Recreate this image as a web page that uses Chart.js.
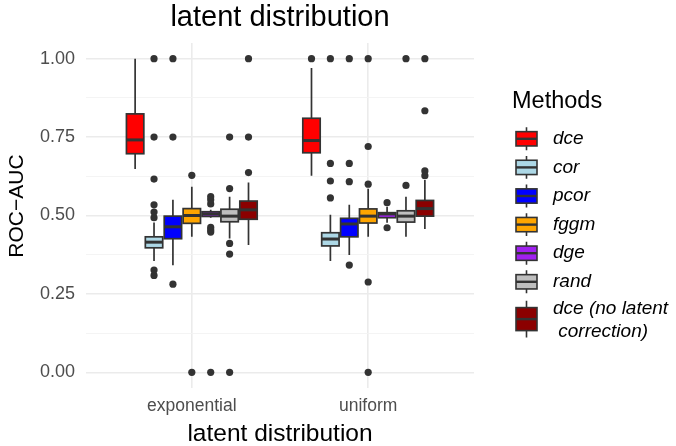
<!DOCTYPE html>
<html>
<head>
<meta charset="utf-8">
<script src="https://cdn.jsdelivr.net/npm/chart.js@4.4.1/dist/chart.umd.min.js"></script>
<style>
  html, body { margin: 0; padding: 0; background: #ffffff; }
  #wrap { width: 676px; height: 446px; }
</style>
</head>
<body>
<div id="wrap"><canvas id="box-chart" width="676" height="446"></canvas></div>
<script>
// Values: five-number boxes [lower whisker, q1, median, q3, upper whisker]
const categories = ["exponential", "uniform"];
const methods = ["dce", "cor", "pcor", "fggm", "dge", "rand", "dce (no latent correction)"];
const methodColors = ["#FF0000", "#ADD8E6", "#0000FF", "#FFA500", "#A020F0", "#BEBEBE", "#8B0000"];
const yTicks = [0, 0.125, 0.25, 0.375, 0.5, 0.625, 0.75, 0.875, 1];

const dceBox = [[0.648, 0.697, 0.741, 0.824, 1.0], [0.627, 0.700, 0.739, 0.810, 0.970]];
const corBox = [[0.355, 0.397, 0.415, 0.432, 0.478], [0.355, 0.403, 0.425, 0.445, 0.502]];
const pcorBox = [[0.341, 0.426, 0.464, 0.498, 0.550], [0.374, 0.432, 0.473, 0.491, 0.534]];
const fggmBox = [[0.432, 0.475, 0.500, 0.522, 0.592], [0.432, 0.476, 0.498, 0.521, 0.585]];
const dgeBox = [[0.493, 0.497, 0.505, 0.512, 0.518], [0.477, 0.493, 0.505, 0.509, 0.528]];
const randBox = [[0.427, 0.480, 0.498, 0.520, 0.560], [0.432, 0.479, 0.498, 0.515, 0.560]];
const dceNlBox = [[0.406, 0.488, 0.518, 0.546, 0.605], [0.457, 0.498, 0.522, 0.548, 0.613]];

const dceOut = [[], [1.0]];
const corOut = [[0.309, 0.326, 0.493, 0.511, 0.534, 0.616, 0.75, 1.0], [0.556, 0.610, 0.666, 1.0]];
const pcorOut = [[0.281, 0.75, 1.0], [0.342, 0.608, 0.666, 1.0]];
const fggmOut = [[0.628, 0], [0.288, 0.600, 0.720, 0, 1.0]];
const dgeOut = [[0.447, 0.454, 0.462, 0.537, 0.550, 0.560, 0], [0.461, 0.541]];
const randOut = [[0.377, 0.411, 0.586, 0.75, 0], [0.596, 1.0]];
const dceNlOut = [[0.637, 0.75, 1.0], [0.627, 0.642, 0.834, 1.0]];

const boxes = [dceBox, corBox, pcorBox, fggmBox, dgeBox, randBox, dceNlBox];
const outliers = [dceOut, corOut, pcorOut, fggmOut, dgeOut, randOut, dceNlOut];

const FONT = "'Liberation Sans', Arial, Helvetica, sans-serif";
const LINE = "#333333";
const DODGE = 0.75;                       // total dodge width per category
const SLOT = DODGE / methods.length;

// x position (in axis units) of a method inside a category
function xPos(catIdx, m) {
    return (catIdx + 1) - DODGE / 2 + (m + 0.5) * SLOT;
}

// outlier points for the scatter dataset
const outlierPoints = [];
outliers.forEach((perCat, m) => {
    perCat.forEach((vals, c) => {
        vals.forEach((v) => outlierPoints.push({ x: xPos(c, m), y: v }));
    });
});

// Draws box + whiskers + median through the chart scales
const boxPlugin = {
    id: "boxes",
    beforeDatasetsDraw(chart) {
        const { ctx, scales } = chart;
        const xs = scales.x, ys = scales.y;
        const half = (xs.getPixelForValue(SLOT) - xs.getPixelForValue(0)) * 0.92 / 2;
        ctx.save();
        ctx.strokeStyle = LINE;
        boxes.forEach((perCat, m) => {
            perCat.forEach((b, c) => {
                const cx = xs.getPixelForValue(xPos(c, m));
                const [lo, q1, med, q3, hi] = b.map((v) => ys.getPixelForValue(v));
                ctx.lineWidth = 1.7;
                ctx.beginPath();
                ctx.moveTo(cx, lo); ctx.lineTo(cx, q1);
                ctx.moveTo(cx, q3); ctx.lineTo(cx, hi);
                ctx.stroke();
                ctx.fillStyle = methodColors[m];
                ctx.fillRect(cx - half, q3, half * 2, q1 - q3);
                ctx.strokeRect(cx - half, q3, half * 2, q1 - q3);
                ctx.lineWidth = 3;
                ctx.beginPath();
                ctx.moveTo(cx - half, med); ctx.lineTo(cx + half, med);
                ctx.stroke();
            });
        });
        ctx.restore();
    },
    afterDraw(chart) {
        const { ctx, chartArea } = chart;
        const mid = (chartArea.left + chartArea.right) / 2;
        ctx.save();
        ctx.fillStyle = "#000000";
        ctx.textAlign = "center";
        ctx.textBaseline = "alphabetic";
        ctx.font = "29px " + FONT;
        ctx.fillText("latent distribution", mid, 26);
        ctx.font = "24.5px " + FONT;
        ctx.fillText("latent distribution", mid, 441);
        ctx.save();
        ctx.translate(23, 206);
        ctx.rotate(-Math.PI / 2);
        ctx.font = "21px " + FONT;
        ctx.fillText("ROC\u2212AUC", 0, 0);
        ctx.restore();

        // legend
        ctx.textAlign = "left";
        ctx.font = "23.5px " + FONT;
        ctx.fillText("Methods", 512, 108);
        const keyX = 512.5, keyW = 28;
        let y = 124.5;
        methods.forEach((name, m) => {
            const lines = m === 6 ? ["dce (no latent", " correction)"] : [name];
            const h = m === 6 ? 46 : 28.6;
            const cy = y + h / 2;
            ctx.strokeStyle = LINE;
            ctx.lineWidth = 1.6;
            const cx = keyX + keyW / 2;
            ctx.beginPath();
            ctx.moveTo(cx, y + h * 0.1); ctx.lineTo(cx, y + h * 0.25);
            ctx.moveTo(cx, y + h * 0.75); ctx.lineTo(cx, y + h * 0.9);
            ctx.stroke();
            ctx.fillStyle = methodColors[m];
            const bx = keyX + keyW * 0.125, bw = keyW * 0.75;
            ctx.fillRect(bx, y + h * 0.25, bw, h * 0.5);
            ctx.strokeRect(bx, y + h * 0.25, bw, h * 0.5);
            ctx.lineWidth = 2.4;
            ctx.beginPath();
            ctx.moveTo(bx, cy); ctx.lineTo(bx + bw, cy);
            ctx.stroke();
            ctx.fillStyle = "#000000";
            ctx.font = "italic 19px " + FONT;
            ctx.textBaseline = "middle";
            if (lines.length === 1) {
                ctx.fillText(lines[0], 553, cy);
            } else {
                ctx.fillText(lines[0], 553, cy - 10);
                ctx.fillText(lines[1], 553, cy + 13);
            }
            ctx.textBaseline = "alphabetic";
            y += h;
        });
        ctx.restore();
    },
};

const isMajor = (v) => Math.abs(v * 4 - Math.round(v * 4)) < 1e-6;

const ctx = document.getElementById("box-chart").getContext("2d");
const chart = new Chart(ctx, {
    type: "scatter",
    data: {
        datasets: [
            {
                label: "outliers",
                data: outlierPoints,
                backgroundColor: LINE,
                borderWidth: 0,
                pointRadius: 3.6,
                pointHoverRadius: 3.6,
            },
        ],
    },
    options: {
        responsive: false,
        animation: false,
        devicePixelRatio: 1,
        layout: { padding: { left: 0, right: 202, top: 43, bottom: 0 } },
        plugins: {
            legend: { display: false },
            title: { display: false },
            tooltip: { enabled: false },
        },
        scales: {
            x: {
                type: "linear",
                min: 0.4,
                max: 2.6,
                afterBuildTicks: (s) => { s.ticks = [{ value: 1 }, { value: 2 }]; },
                afterFit: (s) => { s.height = 58; },
                border: { display: false },
                grid: { color: "#EBEBEB", lineWidth: 1.6, drawTicks: false },
                ticks: {
                    autoSkip: false,
                    padding: 8,
                    color: "#4D4D4D",
                    font: { family: FONT, size: 17.5 },
                    callback: (v) => categories[Math.round(v) - 1],
                },
            },
            y: {
                type: "linear",
                min: -0.05,
                max: 1.05,
                afterBuildTicks: (s) => { s.ticks = yTicks.map((v) => ({ value: v })); },
                afterFit: (s) => { s.width = 86; },
                border: { display: false },
                grid: {
                    drawTicks: false,
                    color: (c) => (isMajor(c.tick.value) ? "#EBEBEB" : "#F3F3F3"),
                    lineWidth: (c) => (isMajor(c.tick.value) ? 1.6 : 0.9),
                },
                ticks: {
                    autoSkip: false,
                    padding: 11,
                    color: "#4D4D4D",
                    font: { family: FONT, size: 18 },
                    callback: (v) => (isMajor(v) ? v.toFixed(2) : ""),
                },
            },
        },
    },
    plugins: [boxPlugin],
});
</script>
</body>
</html>
